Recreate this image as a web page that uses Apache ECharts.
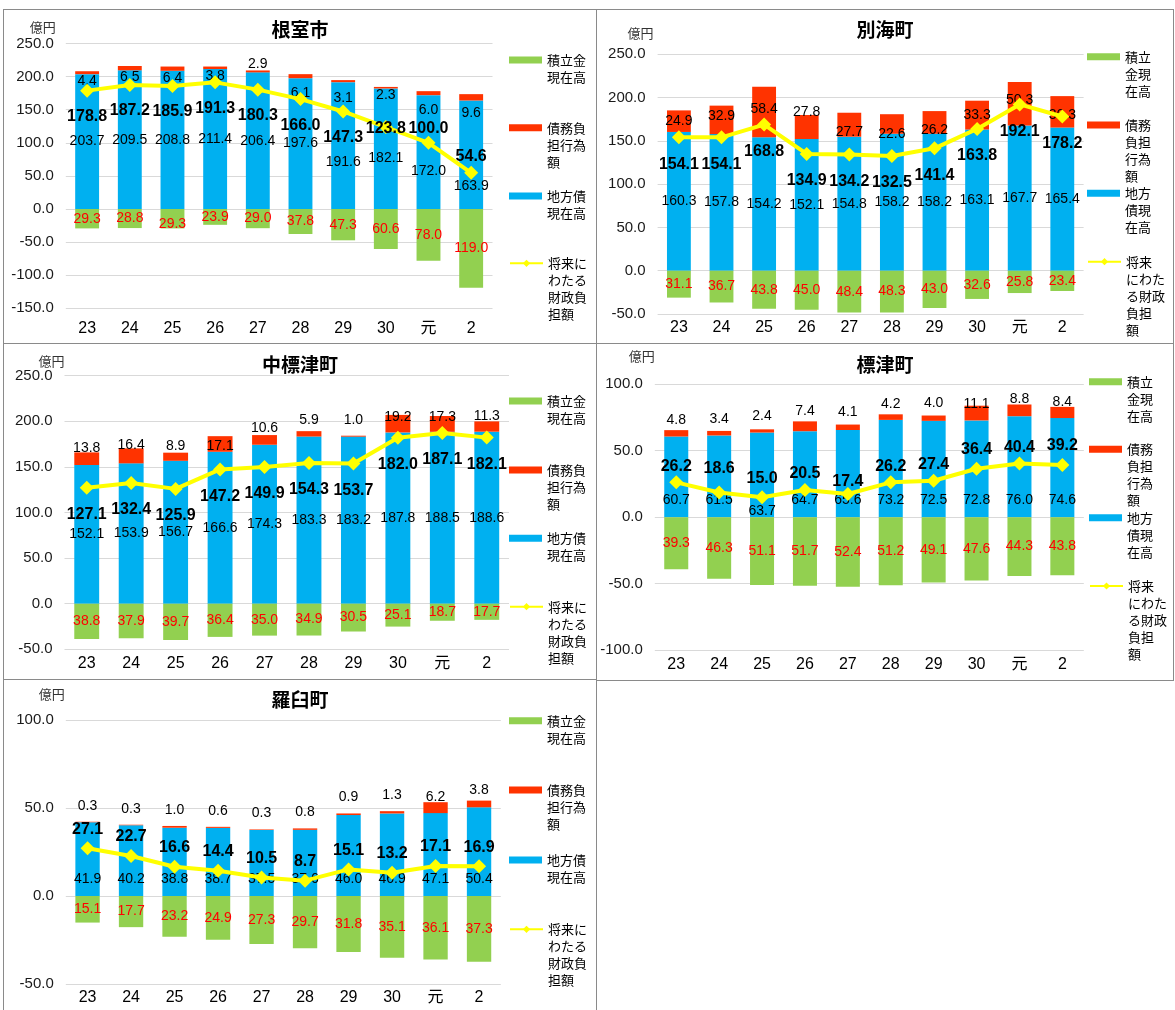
<!DOCTYPE html>
<html>
<head>
<meta charset="utf-8">
<title>将来にわたる財政負担額の推移</title>
<script src="https://cdn.jsdelivr.net/npm/echarts@6/dist/echarts.min.js"></script>
<style>
  html, body { margin: 0; padding: 0; background: #fff; width: 1175px; height: 1010px; overflow: hidden; }
  .frame { position: absolute; box-sizing: border-box; border: 1px solid #8a8a8a; }
  .chart { position: absolute; }
</style>
</head>
<body>
<script>
// Fiscal years (平成23 … 令和2)
const categories = ['23', '24', '25', '26', '27', '28', '29', '30', '元', '2'];
const seriesNames = ['積立金現在高', '債務負担行為額', '地方債現在高', '将来にわたる財政負担額'];
const yAxisUnit = '億円';

// 根室市 (億円)
const nemuroBonds    = [203.7, 209.5, 208.8, 211.4, 206.4, 197.6, 191.6, 182.1, 172.0, 163.9];
const nemuroDebt     = [4.4, 6.5, 6.4, 3.8, 2.9, 6.1, 3.1, 2.3, 6.0, 9.6];
const nemuroReserves = [29.3, 28.8, 29.3, 23.9, 29.0, 37.8, 47.3, 60.6, 78.0, 119.0];
const nemuroBurden   = [178.8, 187.2, 185.9, 191.3, 180.3, 166.0, 147.3, 123.8, 100.0, 54.6];

// 別海町
const betsukaiBonds    = [160.3, 157.8, 154.2, 152.1, 154.8, 158.2, 158.2, 163.1, 167.7, 165.4];
const betsukaiDebt     = [24.9, 32.9, 58.4, 27.8, 27.7, 22.6, 26.2, 33.3, 50.3, 36.3];
const betsukaiReserves = [31.1, 36.7, 43.8, 45.0, 48.4, 48.3, 43.0, 32.6, 25.8, 23.4];
const betsukaiBurden   = [154.1, 154.1, 168.8, 134.9, 134.2, 132.5, 141.4, 163.8, 192.1, 178.2];

// 中標津町
const nakashibetsuBonds    = [152.1, 153.9, 156.7, 166.6, 174.3, 183.3, 183.2, 187.8, 188.5, 188.6];
const nakashibetsuDebt     = [13.8, 16.4, 8.9, 17.1, 10.6, 5.9, 1.0, 19.2, 17.3, 11.3];
const nakashibetsuReserves = [38.8, 37.9, 39.7, 36.4, 35.0, 34.9, 30.5, 25.1, 18.7, 17.7];
const nakashibetsuBurden   = [127.1, 132.4, 125.9, 147.2, 149.9, 154.3, 153.7, 182.0, 187.1, 182.1];

// 標津町
const shibetsuBonds    = [60.7, 61.5, 63.7, 64.7, 65.6, 73.2, 72.5, 72.8, 76.0, 74.6];
const shibetsuDebt     = [4.8, 3.4, 2.4, 7.4, 4.1, 4.2, 4.0, 11.1, 8.8, 8.4];
const shibetsuReserves = [39.3, 46.3, 51.1, 51.7, 52.4, 51.2, 49.1, 47.6, 44.3, 43.8];
const shibetsuBurden   = [26.2, 18.6, 15.0, 20.5, 17.4, 26.2, 27.4, 36.4, 40.4, 39.2];

// 羅臼町
const rausuBonds    = [41.9, 40.2, 38.8, 38.7, 37.5, 37.6, 46.0, 46.9, 47.1, 50.4];
const rausuDebt     = [0.3, 0.3, 1.0, 0.6, 0.3, 0.8, 0.9, 1.3, 6.2, 3.8];
const rausuReserves = [15.1, 17.7, 23.2, 24.9, 27.3, 29.7, 31.8, 35.1, 36.1, 37.3];
const rausuBurden   = [27.1, 22.7, 16.6, 14.4, 10.5, 8.7, 15.1, 13.2, 17.1, 16.9];

// Legend wording, wrapped to the legend column width
const legendWide   = ['積立金\n現在高', '債務負\n担行為\n額', '地方債\n現在高', '将来に\nわたる\n財政負\n担額'];
const legendNarrow = ['積立\n金現\n在高', '債務\n負担\n行為\n額', '地方\n債現\n在高', '将来\nにわた\nる財政\n負担\n額'];

const COLORS = { reserves: '#92D050', debt: '#FF3300', bonds: '#00B0F0', burden: '#FFFF00' };
const NUM_FONT = "'Liberation Sans', Arial, 'Noto Sans CJK JP', sans-serif";
const CJK_FONT = "'Noto Sans CJK JP', 'Noto Sans', sans-serif";

// Panel layout (page pixels) and label placement for each town
const towns = [
  {
    title: '根室市', bonds: nemuroBonds, debt: nemuroDebt, reserves: nemuroReserves, burden: nemuroBurden,
    box: { left: 3, top: 9, width: 594, height: 335 },
    grid: { left: 62.8, top: 34.5, width: 426.7, height: 264.8 },
    yMin: -150, yMax: 250, titleTop: 11, nameGap: 16.5, namePad: 10, xMargin: 12,
    legendText: legendWide, legendX: 506, legendY: [51, 118.7, 187, 254.3],
    bondsLabel:    { pos: 'inside', at: { 6: 17, 7: 9, 8: 19, 9: 31 } },
    debtLabel:     { pos: 'bottom', dist: 0, at: { 4: -15, 5: 8, 6: 9, 8: 8, 9: 6 } },
    reservesLabel: { pos: 'inside', at: { 2: 5 } },
    burdenLabel:   { pos: 'inside', dy: 26, at: { 7: 2, 8: -14, 9: -16 } }
  },
  {
    title: '別海町', bonds: betsukaiBonds, debt: betsukaiDebt, reserves: betsukaiReserves, burden: betsukaiBurden,
    box: { left: 596, top: 9, width: 578, height: 335 },
    grid: { left: 61.6, top: 45.3, width: 426, height: 259.7 },
    yMin: -50, yMax: 250, titleTop: 11, nameGap: 21, namePad: 4, xMargin: 6,
    legendText: legendNarrow, legendX: 491, legendY: [47.7, 116, 184.3, 252.7],
    bondsLabel:    { pos: 'inside' },
    debtLabel:     { pos: 'inside', at: { 1: -4, 2: -3, 3: -15, 4: 7, 5: 10, 6: 8, 8: -4, 9: 3 } },
    reservesLabel: { pos: 'inside' },
    burdenLabel:   { pos: 'inside', dy: 27 }
  },
  {
    title: '中標津町', bonds: nakashibetsuBonds, debt: nakashibetsuDebt, reserves: nakashibetsuReserves, burden: nakashibetsuBurden,
    box: { left: 3, top: 343, width: 594, height: 337 },
    grid: { left: 61.5, top: 32.7, width: 444.5, height: 273.6 },
    yMin: -50, yMax: 250, titleTop: 12, nameGap: 15, namePad: 0, xMargin: 6,
    legendText: legendWide, legendX: 506, legendY: [58, 127, 195.3, 263.7],
    bondsLabel:    { pos: 'inside' },
    debtLabel:     { pos: 'top', dist: 0, at: { 0: 3, 1: 4, 3: 17, 5: -4, 6: -9, 7: 9, 8: 8, 9: 1.5 } },
    reservesLabel: { pos: 'inside' },
    burdenLabel:   { pos: 'inside', dy: 27 }
  },
  {
    title: '標津町', bonds: shibetsuBonds, debt: shibetsuDebt, reserves: shibetsuReserves, burden: shibetsuBurden,
    box: { left: 596, top: 343, width: 578, height: 338 },
    grid: { left: 58.8, top: 41.3, width: 429, height: 265.7 },
    yMin: -100, yMax: 100, titleTop: 12, nameGap: 28, namePad: 0, xMargin: 7,
    legendText: legendNarrow, legendX: 493, legendY: [38.7, 106.3, 174.7, 243],
    bondsLabel:    { pos: 'insideBottom', dist: 10, at: { 2: 11 } },
    debtLabel:     { pos: 'top', dist: 3, at: { 1: -2, 2: -3, 4: -2, 6: -2, 7: 8, 8: 5, 9: 5 } },
    reservesLabel: { pos: 'inside' },
    burdenLabel:   { pos: 'inside', dy: -16, at: { 1: -24, 2: -19, 4: -12, 7: -19, 9: -19 } }
  },
  {
    title: '羅臼町', bonds: rausuBonds, debt: rausuDebt, reserves: rausuReserves, burden: rausuBurden,
    box: { left: 3, top: 679, width: 594, height: 340 },
    grid: { left: 62.8, top: 41, width: 435, height: 264 },
    yMin: -50, yMax: 100, titleTop: 11, nameGap: 26, namePad: 1, xMargin: 6,
    legendText: legendWide, legendX: 506, legendY: [41.7, 111, 181, 250.3],
    bondsLabel:    { pos: 'insideBottom', dist: 10 },
    debtLabel:     { pos: 'top', dist: 9, at: { 8: 11, 9: 6 } },
    reservesLabel: { pos: 'inside' },
    burdenLabel:   { pos: 'inside', dy: -19 }
  }
];

// Wrap values as data items, nudging individual labels where needed
function withLabelOffsets(values, spec) {
  return values.map((v, i) => {
    const dy = (spec.at && spec.at[i] !== undefined) ? spec.at[i] : (spec.dy || 0);
    return dy ? { value: v, label: { offset: [0, dy] } } : v;
  });
}

const oneDecimal = p => Math.abs(p.value).toFixed(1);

function barSeries(name, values, color, spec, textColor) {
  return {
    name, type: 'bar', stack: 'total', barWidth: '56%',
    data: withLabelOffsets(values, spec),
    itemStyle: { color },
    label: {
      show: true, position: spec.pos, distance: spec.dist || 0,
      formatter: oneDecimal, color: textColor, fontSize: 14, fontFamily: NUM_FONT
    }
  };
}

function drawTown(t) {
  const frame = document.createElement('div');
  frame.className = 'frame';
  const el = document.createElement('div');
  el.className = 'chart';
  for (const node of [frame, el]) {
    node.style.left = t.box.left + 'px';
    node.style.top = t.box.top + 'px';
    node.style.width = t.box.width + 'px';
    node.style.height = t.box.height + 'px';
    document.body.appendChild(node);
  }

  // Each legend entry is its own block; leading blank lines keep the
  // swatch level with the first line of the wrapped caption.
  const lh = 17;
  const legends = seriesNames.map((name, k) => {
    const n = t.legendText[k].split('\n').length;
    const caption = '\n'.repeat(n - 1) + t.legendText[k];
    return {
      data: [name], orient: 'vertical', padding: 0, itemGap: 0,
      left: t.legendX, top: t.legendY[k] - (2 * n - 1) * lh / 2,
      itemWidth: 33, itemHeight: k === 3 ? 9 : 7, icon: k === 3 ? undefined : 'rect',
      selectedMode: false,
      formatter: () => caption,
      textStyle: { fontSize: 13, lineHeight: lh, color: '#000', fontFamily: CJK_FONT }
    };
  });

  const chart = echarts.init(el, null, { renderer: 'canvas' });
  chart.setOption({
    animation: false,
    backgroundColor: 'transparent',
    title: {
      text: t.title, left: 'center', top: t.titleTop, padding: 0,
      textStyle: { fontSize: 19, fontWeight: 'bold', color: '#000', fontFamily: CJK_FONT }
    },
    legend: legends,
    grid: Object.assign({ containLabel: false, outerBoundsMode: 'none' }, t.grid),
    xAxis: {
      type: 'category', data: categories,
      axisLine: { show: false, onZero: false }, axisTick: { show: false },
      axisLabel: { fontSize: 16, color: '#000', margin: t.xMargin, fontFamily: NUM_FONT }
    },
    yAxis: {
      type: 'value', min: t.yMin, max: t.yMax, interval: 50,
      name: yAxisUnit, nameLocation: 'end', nameGap: t.nameGap,
      nameTextStyle: { align: 'right', verticalAlign: 'middle', padding: [0, t.namePad, 0, 0], fontSize: 13, color: '#333', fontFamily: CJK_FONT },
      axisLine: { show: false }, axisTick: { show: false },
      axisLabel: { formatter: v => v.toFixed(1), fontSize: 15, color: '#1a1a1a', margin: 12, fontFamily: NUM_FONT },
      splitLine: { lineStyle: { color: '#d9d9d9', width: 1 } }
    },
    series: [
      barSeries(seriesNames[2], t.bonds, COLORS.bonds, t.bondsLabel, '#000'),
      barSeries(seriesNames[1], t.debt, COLORS.debt, t.debtLabel, '#000'),
      barSeries(seriesNames[0], t.reserves.map(v => -v), COLORS.reserves, t.reservesLabel, '#FF0000'),
      {
        name: seriesNames[3], type: 'line', z: 5,
        data: withLabelOffsets(t.burden, t.burdenLabel),
        symbol: 'diamond', symbolSize: 14,
        lineStyle: { color: COLORS.burden, width: 4 },
        itemStyle: { color: COLORS.burden },
        label: {
          show: true, position: t.burdenLabel.pos, formatter: oneDecimal,
          color: '#000', fontSize: 16, fontWeight: 'bold', fontFamily: NUM_FONT
        }
      }
    ]
  });
}

towns.forEach(drawTown);
</script>
</body>
</html>
